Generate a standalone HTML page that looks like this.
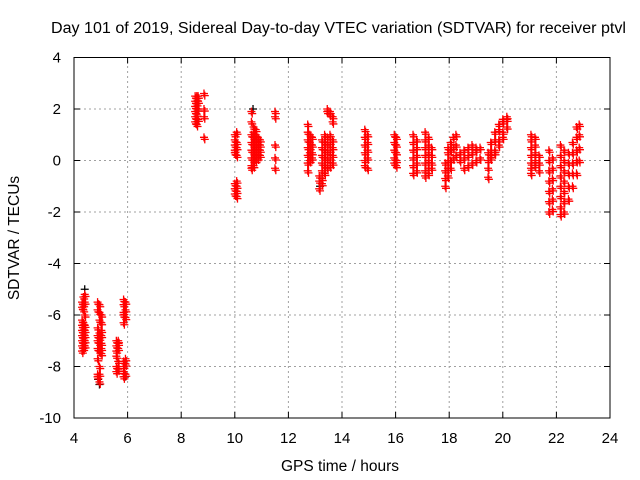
<!DOCTYPE html>
<html><head><meta charset="utf-8"><style>
html,body{margin:0;padding:0;background:#fff;}
svg{display:block;font-family:"Liberation Sans",sans-serif;}
</style></head><body>
<svg id="chart" width="640" height="480" xmlns="http://www.w3.org/2000/svg">
<text x="51" y="33" font-size="15.5" textLength="575" lengthAdjust="spacingAndGlyphs">Day 101 of 2019, Sidereal Day-to-day VTEC variation (SDTVAR) for receiver ptvl</text>
<text transform="translate(19,238) rotate(-90)" text-anchor="middle" font-size="15.5">SDTVAR / TECUs</text>
<text x="340" y="471" text-anchor="middle" font-size="15.5">GPS time / hours</text>
<g id="grid"></g>
<g id="axes"></g>
<g id="marks"></g>
<rect x="74" y="57.5" width="536" height="360.5" fill="none" stroke="#000" stroke-width="1"/>
</svg>
<script>
const xTicks=[4,6,8,10,12,14,16,18,20,22,24];
const yTicks=[4,2,0,-2,-4,-6,-8,-10];
const blackPoints=[[4.4,-5.0],[4.95,-8.7],[10.68,2.0],[13.18,-1.0],[4.9,-8.5],[5.9,-8.4]];
const redColumns=[
[4.30,[-5.5,-5.7,-6.2,-6.4,-6.6,-6.8,-7.0,-7.2,-7.4]],
[4.35,[-5.3,-5.6,-5.8,-6.3,-6.5,-6.7,-6.9,-7.1,-7.3]],
[4.40,[-5.2,-5.5,-6.0,-6.4,-6.6,-6.8,-7.0,-7.2]],
[4.88,[-5.5,-5.8,-6.5,-6.8,-7.0,-7.3,-7.7,-8.3,-8.4]],
[4.95,[-5.6,-5.9,-6.2,-6.7,-6.9,-7.1,-7.4,-8.0,-8.3,-8.6]],
[5.02,[-6.0,-6.3,-6.6,-6.8,-7.1,-7.3,-7.5]],
[5.58,[-7.0,-7.2,-7.4,-7.6,-8.0,-8.2]],
[5.65,[-7.0,-7.1,-7.3,-7.8,-8.1]],
[5.85,[-5.4,-5.6,-5.9,-6.0,-6.3,-7.8,-8.0,-8.2,-8.4]],
[5.92,[-5.5,-5.8,-6.1,-7.7,-7.9,-8.3]],
[8.52,[1.5,1.7,1.9,2.1,2.3,2.5]],
[8.58,[1.4,1.6,1.8,2.0,2.2,2.4,2.5]],
[8.63,[1.6,2.0,2.3,2.5]],
[8.85,[2.6,2.0,1.7,0.9]],
[10.0,[1.0,0.8,0.6,0.4,0.3,-0.9,-1.1,-1.3]],
[10.07,[1.1,0.7,0.5,0.2,-0.8,-1.0,-1.2,-1.4]],
[10.62,[1.9,1.5,1.0,0.7,0.4,0.1,-0.2,-0.3]],
[10.7,[1.3,1.1,0.9,0.6,0.3,0.0,-0.2]],
[10.78,[1.2,1.0,0.8,0.5,0.2,0.0]],
[10.86,[0.9,0.7,0.5,0.3,0.1]],
[10.94,[0.8,0.6,0.4,0.2]],
[11.5,[1.9,1.7,0.6,0.1,-0.3]],
[12.72,[1.4,1.1,0.8,0.5,0.2,-0.1,-0.4]],
[12.8,[1.0,0.7,0.5,0.3,0.0]],
[12.88,[0.9,0.6,0.3,0.1]],
[13.15,[-1.1,-0.8,-0.6]],
[13.25,[0.8,0.5,0.2,-0.1,-0.4,-0.7,-0.9]],
[13.35,[1.0,0.7,0.4,0.1,-0.2,-0.5]],
[13.45,[2.0,1.9,0.9,0.6,0.3,0.0,-0.3]],
[13.55,[1.9,1.8,1.0,0.7,0.4,0.1,-0.2]],
[13.65,[1.7,1.5,0.8,0.5,0.2,-0.1]],
[14.85,[1.2,0.9,0.6,0.3,0.0,-0.2]],
[14.95,[1.0,0.7,0.4,0.1,-0.3]],
[15.95,[1.0,0.7,0.4,0.1,-0.1]],
[16.02,[0.9,0.6,0.3,0.0,-0.2]],
[16.65,[1.0,0.7,0.4,0.1,-0.2,-0.5]],
[16.78,[0.8,0.5,0.2,-0.1,-0.4]],
[17.1,[1.1,0.8,0.5,0.2,-0.1,-0.4,-0.6]],
[17.22,[0.9,0.6,0.3,0.0,-0.3,-0.5]],
[17.34,[0.5,0.2,-0.1,-0.3]],
[17.85,[-1.0,-0.7,-0.4,-0.1]],
[17.95,[-0.6,-0.3,0.0,0.3,0.5]],
[18.05,[-0.3,0.0,0.4,0.7]],
[18.15,[0.1,0.5,0.9]],
[18.25,[0.2,0.6,1.0]],
[18.4,[0.0,0.3]],
[18.55,[0.1,0.4,-0.3]],
[18.7,[-0.2,0.2,0.5]],
[18.85,[-0.1,0.3,0.6]],
[19.0,[0.0,0.4,0.5]],
[19.15,[0.1,0.5]],
[19.45,[-0.3,0.0,0.3,-0.65]],
[19.55,[0.1,0.4,0.7,0.2]],
[19.7,[0.4,0.8,1.1,0.3]],
[19.85,[0.8,1.2,1.4,0.6]],
[20.0,[1.1,1.5,1.6,0.9]],
[20.15,[1.3,1.6,1.7]],
[21.05,[1.0,0.8,0.5,0.2,-0.1,-0.3,-0.5]],
[21.2,[0.9,0.6,0.3,0.0,-0.2]],
[21.35,[0.2,-0.1,-0.4]],
[21.72,[0.4,0.0,-0.4,-0.8,-1.2,-1.6,-2.0]],
[21.85,[0.1,-0.3,-0.7,-1.1,-1.5,-1.9]],
[22.15,[0.6,0.2,-0.2,-0.6,-1.0,-1.4,-1.8,-2.1]],
[22.28,[0.4,0.0,-0.4,-0.8,-1.2,-1.6,-2.0]],
[22.45,[-1.5,-1.0,-0.5,-0.1,0.3]],
[22.6,[-1.0,-0.5,-0.1,0.3,0.7]],
[22.75,[-0.5,0.0,0.4,0.9,1.3]],
[22.85,[0.0,0.5,1.0,1.4]]
];
const NS="http://www.w3.org/2000/svg";
const X0=74,X1=610,Y0=418,Y1=57.5;
function sx(t){return X0+(t-4)/(24-4)*(X1-X0);}
function sy(v){return Y0+(v-(-10))/(4-(-10))*(Y1-Y0);}
function mk(tag,attrs,parent){const e=document.createElementNS(NS,tag);for(const k in attrs)e.setAttribute(k,attrs[k]);parent.appendChild(e);return e;}
const grid=document.getElementById('grid'),axes=document.getElementById('axes'),marks=document.getElementById('marks');
xTicks.forEach(t=>{
  const x=sx(t);
  if(t>4&&t<24){const g=mk('line',{x1:x,x2:x,y1:Y0,y2:Y1,stroke:'#a0a0a0','stroke-dasharray':'2,3'},grid);
  
  }
  mk('line',{x1:x,x2:x,y1:Y0,y2:Y0-6,stroke:'#000'},axes);
  mk('line',{x1:x,x2:x,y1:Y1,y2:Y1+6,stroke:'#000'},axes);
  const l=mk('text',{x:x,y:Y0+25,'text-anchor':'middle','font-size':'15'},axes);
  l.textContent=t;
  
  
});
yTicks.forEach(v=>{
  const y=sy(v);
  if(v<4&&v>-10){const g=mk('line',{x1:X0,x2:X1,y1:y,y2:y,stroke:'#a0a0a0','stroke-dasharray':'2,3'},grid);
  
  }
  mk('line',{x1:X0,x2:X0+6,y1:y,y2:y,stroke:'#000'},axes);
  mk('line',{x1:X1,x2:X1-6,y1:y,y2:y,stroke:'#000'},axes);
  const l=mk('text',{x:X0-13,y:y+5,'text-anchor':'end','font-size':'15'},axes);
  l.textContent=v;
  
  
});
function plus(t,v,color,name){
  const x=sx(t),y=sy(v);
  const p=mk('path',{d:`M${x-4},${y}H${x+4}M${x},${y-4}V${y+4}`,stroke:color,'stroke-width':'1.3',fill:'none'},marks);
  
  
}
blackPoints.forEach(p=>plus(p[0],p[1],'#000','black-point'));
redColumns.forEach(c=>{
  const t=c[0],vs=c[1];
  vs.forEach(v=>{plus(t,v,'#f00','red-point');plus(t+0.03,v-0.08,'#f00','red-point');});
});
</script>
</body></html>
